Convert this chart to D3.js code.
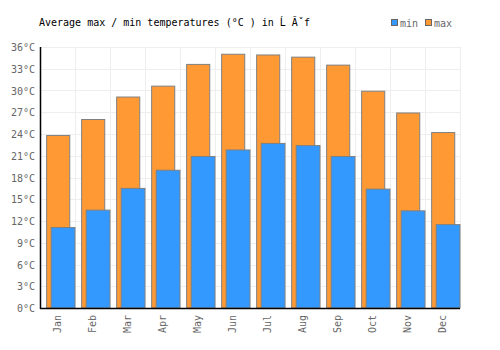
<!DOCTYPE html>
<html>
<head>
<meta charset="utf-8">
<script src="https://cdn.jsdelivr.net/npm/d3@7/dist/d3.min.js"></script>
<style>
  body { margin: 0; background: #fff; }
  text { font-family: "DejaVu Sans Mono", monospace; }
</style>
</head>
<body>
<div id="chart"></div>
<script>
// chart data
var months = ["Jan", "Feb", "Mar", "Apr", "May", "Jun", "Jul", "Aug", "Sep", "Oct", "Nov", "Dec"];
var maxTemps = [23.8, 26.0, 29.1, 30.6, 33.6, 35.0, 34.9, 34.6, 33.5, 29.9, 26.9, 24.2];
var minTemps = [11.1, 13.5, 16.5, 19.0, 20.9, 21.8, 22.7, 22.4, 20.9, 16.4, 13.4, 11.5];
var yTicks = [0, 3, 6, 9, 12, 15, 18, 21, 24, 27, 30, 33, 36];
var title = "Average max / min temperatures (°C ) in Ĺ Ăˇf";

var width = 500, height = 350;
var margin = { top: 47, right: 40, bottom: 42, left: 40 };
var w = width - margin.left - margin.right;
var h = height - margin.top - margin.bottom;

var svg = d3.select("#chart").append("svg")
    .attr("width", width)
    .attr("height", height);

var g = svg.append("g")
    .attr("transform", "translate(" + margin.left + "," + margin.top + ")");

var x = d3.scaleBand().domain(months).range([0, w]);
var y = d3.scaleLinear().domain([0, 36]).range([h, 0]);

// grid
g.selectAll(".hgrid").data(yTicks).enter().append("line")
    .attr("x1", 0).attr("x2", w)
    .attr("y1", function(d) { return Math.round(y(d)) + 0.5; })
    .attr("y2", function(d) { return Math.round(y(d)) + 0.5; })
    .attr("stroke", "#eeeeee");

g.selectAll(".vgrid").data(months.concat(["end"])).enter().append("line")
    .attr("x1", function(d, i) { return Math.round(i * x.step()) + 0.5; })
    .attr("x2", function(d, i) { return Math.round(i * x.step()) + 0.5; })
    .attr("y1", 0).attr("y2", h)
    .attr("stroke", "#eeeeee");

// max bars
var bw = x.step();
g.selectAll(".maxbar").data(maxTemps).enter().append("rect")
    .attr("x", function(d, i) { return x(months[i]) + bw * 0.19; })
    .attr("width", bw * 0.66)
    .attr("y", function(d) { return y(d); })
    .attr("height", function(d) { return h - y(d); })
    .attr("fill", "#ff9933")
    .attr("stroke", "#808080")
    .attr("stroke-width", 1);

// min bars
g.selectAll(".minbar").data(minTemps).enter().append("rect")
    .attr("x", function(d, i) { return x(months[i]) + bw * 0.32; })
    .attr("width", bw * 0.68)
    .attr("y", function(d) { return y(d); })
    .attr("height", function(d) { return h - y(d); })
    .attr("fill", "#3399ff")
    .attr("stroke", "#808080")
    .attr("stroke-width", 1);

// axes lines
g.append("line").attr("x1", 0.5).attr("x2", 0.5).attr("y1", 0).attr("y2", h + 1)
    .attr("stroke", "#000").attr("stroke-width", 1.5);
g.append("line").attr("x1", 0).attr("x2", w).attr("y1", h + 0.5).attr("y2", h + 0.5)
    .attr("stroke", "#000").attr("stroke-width", 1.5);

// y labels
g.selectAll(".ylab").data(yTicks).enter().append("text")
    .attr("x", -5)
    .attr("y", function(d) { return y(d) + 4; })
    .attr("text-anchor", "end")
    .attr("fill", "#666")
    .style("font-size", "10px")
    .text(function(d) { return d + "°C"; });

// x labels
g.selectAll(".xlab").data(months).enter().append("text")
    .attr("transform", function(d) {
        return "translate(" + (x(d) + bw / 2 + 3) + "," + (h + 7) + ") rotate(-90)";
    })
    .attr("text-anchor", "end")
    .attr("fill", "#666")
    .style("font-size", "10px")
    .text(function(d) { return d; });

// title
svg.append("text")
    .attr("x", 39).attr("y", 26)
    .attr("fill", "#000")
    .style("font-size", "10px")
    .text(title);

// legend
var legend = [["min", "#3399ff", 391], ["max", "#ff9933", 425]];
legend.forEach(function(l) {
    svg.append("rect")
        .attr("x", l[2] + 0.5).attr("y", 19.5)
        .attr("width", 6).attr("height", 6)
        .attr("fill", l[1]).attr("stroke", "#666");
    svg.append("text")
        .attr("x", l[2] + 9).attr("y", 27)
        .attr("fill", "#666")
        .style("font-size", "10px")
        .text(l[0]);
});
</script>
</body>
</html>
